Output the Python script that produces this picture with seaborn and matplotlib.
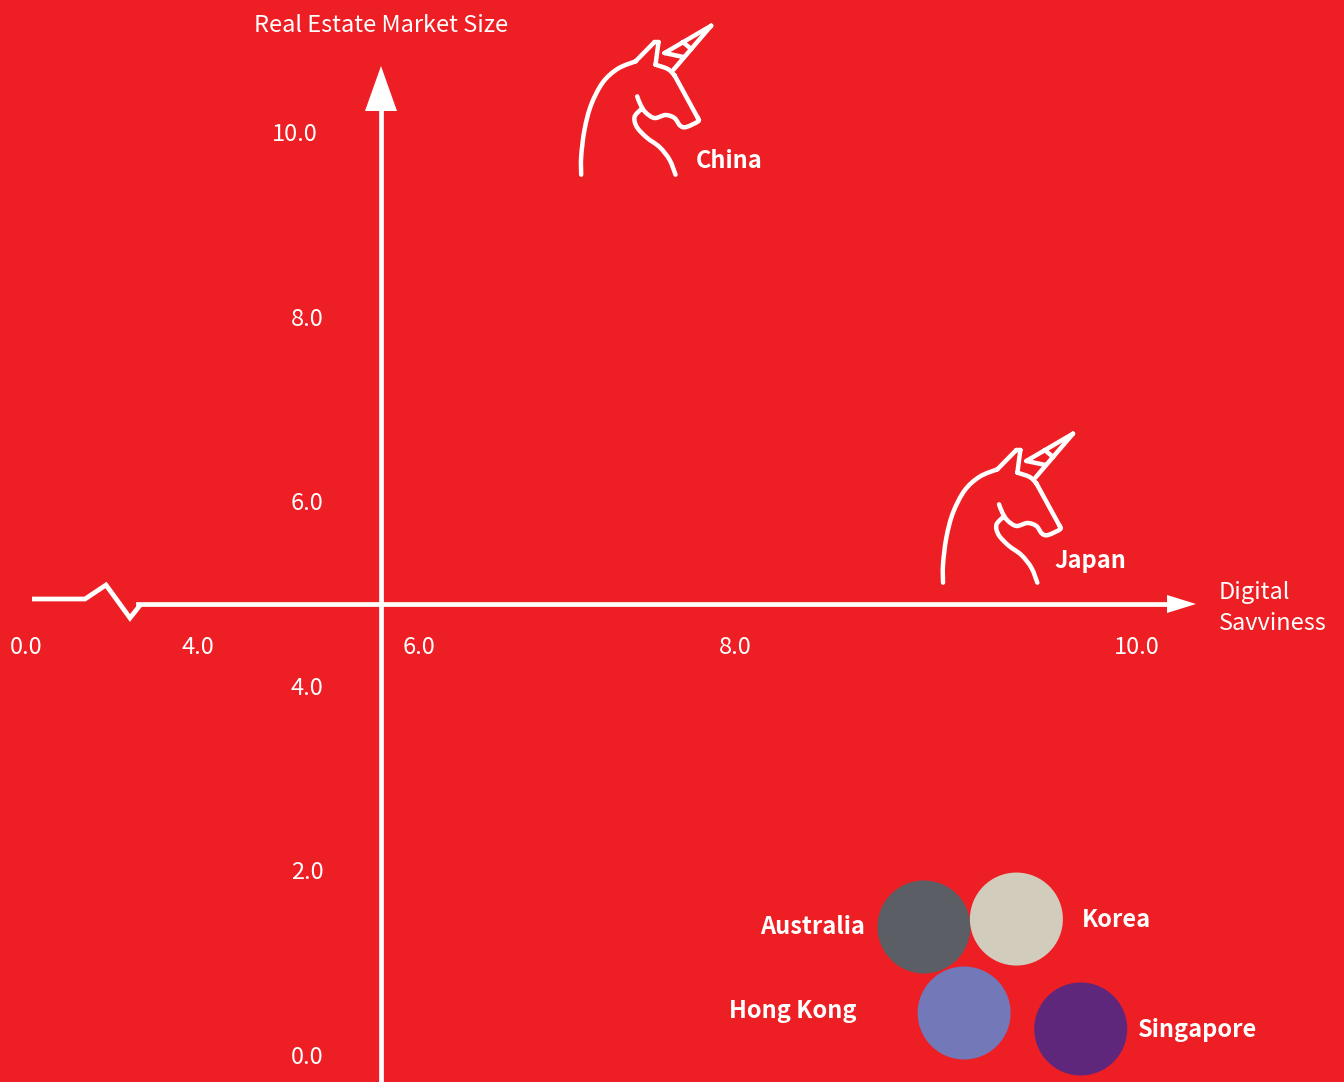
import numpy as np
import matplotlib
matplotlib.use("Agg")
import matplotlib.pyplot as plt
from matplotlib.path import Path
from matplotlib.transforms import ScaledTranslation
import seaborn as sns

# ---- data ----
circle_names = ["Australia", "Korea", "Hong Kong", "Singapore"]
circle_x = [8.94, 9.40, 9.14, 9.72]
circle_y = [1.387, 1.473, 0.455, 0.282]
circle_colors = ["#5B5E65", "#D2CCBC", "#7278B8", "#5F277B"]
unicorn_names = ["China", "Japan"]
unicorn_x = [7.44, 9.36]
unicorn_y = [10.35, 5.93]
x_tick_values = [0, 4, 6, 8, 10]
y_tick_values = [0, 2, 4, 6, 8, 10]
x_title = "Digital\nSavviness"
y_title = "Real Estate Market Size"

BG = "#ED1F24"
W, H = 1344, 1082
X_ANCHOR_V = [-10, 0, 4, 6, 8, 10, 20]
X_ANCHOR_P = [-404, 26, 198, 419, 735, 1137, 3147]
Y0_PX, Y_PX_PER = 1055, 92.3
CROSS_X_PX, CROSS_Y_PX = 381, 604


def fwd(v):
    return np.interp(v, X_ANCHOR_V, X_ANCHOR_P)


def inv(p):
    return np.interp(p, X_ANCHOR_P, X_ANCHOR_V)


def px(xp, yp):
    return inv(np.asarray(xp, float)), (Y0_PX - np.asarray(yp, float)) / Y_PX_PER


sns.set_theme(style="white")
plt.rcParams["font.family"] = ["Noto Sans CJK SC", "DejaVu Sans"]
fig = plt.figure(figsize=(W / 100, H / 100), dpi=100, facecolor=BG)
ax = fig.add_axes([0, 0, 1, 1], facecolor=BG)
ax.set_xscale("function", functions=(fwd, inv))
ax.set_xlim(inv(0), inv(W))
ax.set_ylim((Y0_PX - H) / Y_PX_PER, Y0_PX / Y_PX_PER)

# axes as spines
cx, cy = px(CROSS_X_PX, CROSS_Y_PX)
for s in ["top", "right"]:
    ax.spines[s].set_visible(False)
ax.spines["bottom"].set_position(("data", float(cy)))
ax.spines["left"].set_position(("data", float(cx)))
for s in ["bottom", "left"]:
    ax.spines[s].set_color("white")
    ax.spines[s].set_linewidth(3.4)
ax.spines["bottom"].set_bounds(float(inv(138)), float(inv(1172)))
ax.spines["left"].set_bounds(ax.get_ylim()[0], float(px(0, 100)[1]))

ax.set_xticks(x_tick_values, [f"{v:.1f}" for v in x_tick_values])
ax.set_yticks(y_tick_values, [f"{v:.1f}" for v in y_tick_values])
ax.minorticks_off()
ax.tick_params(axis="x", length=0, pad=23.2, labelsize=17, labelcolor="white")
ax.tick_params(axis="y", length=0, pad=41.5, labelsize=17, labelcolor="white")
for lab in ax.get_yticklabels():
    if lab.get_text() == "10.0":
        lab.set_transform(lab.get_transform() + ScaledTranslation(-6 / 100, 0, fig.dpi_scale_trans))

# axis break and arrow heads
bx, by = px([32, 85, 106, 130, 141], [599, 599, 585, 618, 604])
ax.plot(bx, by, color="white", lw=3.4, solid_joinstyle="miter", solid_capstyle="butt")
ax_x, ax_y = px([1167, 1196, 1167], [595, 604, 613])
ax.fill(ax_x, ax_y, color="white", lw=0)
ay_x, ay_y = px([365, 381, 397], [111, 66, 111])
ax.fill(ay_x, ay_y, color="white", lw=0)

# unicorn outline, in zoom-crop pixels measured on the China icon
Z_OX, Z_OY = 560, 10
chains = [
    [(65, 495), (65, 440), (75, 360), (95, 285), (130, 218), (175, 177), (228, 155)],
    [(228, 155), (285, 97)],
    [(285, 97), (297, 97)],
    [(297, 97), (288, 165)],
    [(288, 165), (325, 178), (345, 197)],
    [(345, 197), (415, 325)],
    [(415, 325), (416, 335), (380, 352), (362, 348), (345, 325), (318, 316),
     (285, 325), (258, 308), (243, 285), (233, 260)],
    [(243, 300), (225, 322), (232, 352), (262, 384), (300, 412), (330, 450), (348, 495)],
    [(342, 180), (455, 48)],
    [(455, 48), (315, 130)],
    [(315, 130), (372, 142)],
    [(370, 97), (395, 118)],
]
anchor = (647, 100)
verts, codes = [], []
for ch in chains:
    p = np.array([(x / 3 + Z_OX - anchor[0], -(y / 3 + Z_OY - anchor[1])) for x, y in ch])
    verts.append(tuple(p[0]))
    codes.append(Path.MOVETO)
    for i in range(len(p) - 1):
        p0 = p[max(i - 1, 0)]
        p3 = p[min(i + 2, len(p) - 1)]
        c1 = p[i] + (p[i + 1] - p0) / 6
        c2 = p[i + 1] - (p3 - p[i]) / 6
        verts += [tuple(c1), tuple(c2), tuple(p[i + 1])]
        codes += [Path.CURVE4] * 3
unicorn = Path(verts, codes)
R = np.abs(np.asarray(verts)).max()
size = (2 * R * 0.72) ** 2

pts = sns.scatterplot(x=unicorn_x, y=unicorn_y, marker=unicorn, s=size, ax=ax, legend=False,
                      facecolor="none", edgecolor="white", linewidth=3.2)
coll = pts.collections[-1]
coll.set_facecolor("none")
coll.set_capstyle("round")
coll.set_joinstyle("round")

sns.scatterplot(x=circle_x, y=circle_y, hue=circle_names, palette=dict(zip(circle_names, circle_colors)),
                s=(93 * 0.72) ** 2, linewidth=0, legend=False, ax=ax, clip_on=False)

# labels: offsets in pixels from each mark
label_kw = dict(textcoords="offset pixels", color="white", fontsize=17, fontweight="bold", va="center")
u_off = [(49, -61), (46, -53)]
for n, ux, uy, (dx, dy) in zip(unicorn_names, unicorn_x, unicorn_y, u_off):
    ax.annotate(n, (ux, uy), xytext=(dx, dy), ha="left", **label_kw)
c_off = [(-59, 0, "right"), (65, -1, "left"), (-108, 2, "right"), (57, -1, "left")]
for n, ux, uy, (dx, dy, ha) in zip(circle_names, circle_x, circle_y, c_off):
    ax.annotate(n, (ux, uy), xytext=(dx, dy), ha=ha, **label_kw)

tx, ty = px(381, 26)
ax.text(tx, ty, y_title, color="white", fontsize=17, ha="center", va="center")
tx, ty = px(1219, 608)
ax.text(tx, ty, x_title, color="white", fontsize=17, ha="left", va="center", linespacing=1.4)

fig.savefig("out.png", dpi=100, facecolor=BG)
